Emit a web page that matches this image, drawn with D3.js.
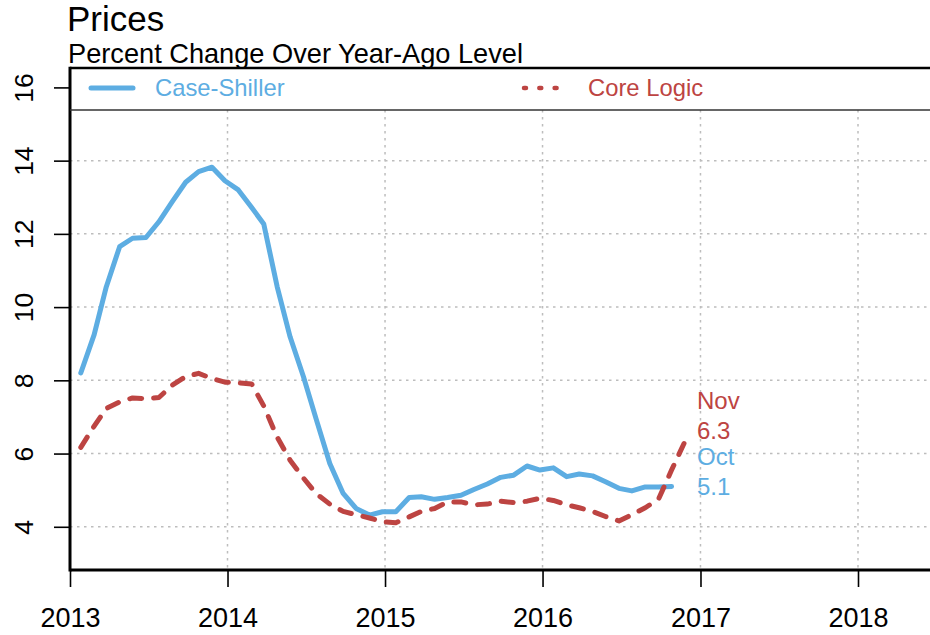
<!DOCTYPE html>
<html>
<head>
<meta charset="utf-8">
<script src="https://cdn.jsdelivr.net/npm/d3@7"></script>
<style>
  html, body { margin: 0; padding: 0; background: #fff; }
  svg { display: block; font-family: "Liberation Sans", Arial, sans-serif; }
</style>
</head>
<body>
<svg id="chart" width="930" height="635"></svg>
<script>
// ---- data (monthly, percent change over year-ago level) ----
const startYear = 2013;
const caseShiller = [
  8.2, 9.25, 10.55, 11.65, 11.88, 11.9, 12.33, 12.88, 13.41, 13.7, 13.82, 13.45,
  13.2, 12.72, 12.27, 10.56, 9.19, 8.1, 6.92, 5.73, 4.91, 4.5, 4.32, 4.41,
  4.41, 4.8, 4.82, 4.75, 4.8, 4.86, 5.02, 5.17, 5.35, 5.41, 5.66, 5.55,
  5.61, 5.37, 5.44, 5.39, 5.23, 5.05, 4.98, 5.09, 5.09, 5.1
];
const coreLogic = [
  6.17, 6.75, 7.23, 7.41, 7.52, 7.5, 7.53, 7.87, 8.1, 8.19, 8.05, 7.95,
  7.93, 7.9, 7.3, 6.45, 5.82, 5.33, 4.9, 4.62, 4.42, 4.33, 4.24, 4.14,
  4.11, 4.27, 4.42, 4.5, 4.68, 4.68, 4.6, 4.62, 4.7, 4.66, 4.7, 4.78,
  4.72, 4.6, 4.52, 4.42, 4.28, 4.16, 4.33, 4.52, 4.76, 5.55, 6.33
];
const yTicks = [4, 6, 8, 10, 12, 14, 16];
const yGrid = [4, 6, 8, 10, 12, 14];
const xTickYears = [2013, 2014, 2015, 2016, 2017, 2018];
const seriesNames = ["Case-Shiller", "Core Logic"];
const titleText = "Prices";
const subtitleText = "Percent Change Over Year-Ago Level";

(function () {
const blue = "#5DADE2";
const red = "#BD4442";

// month index -> date (data points sit late in each month)
const toDate = i => new Date(startYear, i, 26);
const blueData = caseShiller.map((v, i) => ({ date: toDate(i), v }));
const redData = coreLogic.map((v, i) => ({ date: toDate(i), v }));

const svg = d3.select("#chart");
const pLeft = 70, pTop = 68, pBottom = 570, pRight = 940, legendBottom = 110;

const x = d3.scaleTime()
  .domain([new Date(2013, 0, 1), new Date(2018, 0, 1)])
  .range([70, 858]);
const y = d3.scaleLinear().domain([2.82, 16.53]).range([pBottom, pTop]);

// title
svg.append("text").attr("x", 67).attr("y", 30.5)
  .attr("font-size", 35).attr("fill", "#000").text(titleText);
svg.append("text").attr("x", 68).attr("y", 62.5)
  .attr("font-size", 27.2).attr("fill", "#000").text(subtitleText);

// grid
const grid = svg.append("g").attr("stroke", "#bdbdbd").attr("stroke-width", 1.5)
  .attr("stroke-dasharray", "2.5 4.5");
grid.selectAll("line.h").data(yGrid).join("line").attr("class", "h")
  .attr("x1", pLeft).attr("x2", 930)
  .attr("y1", d => y(d)).attr("y2", d => y(d));
grid.selectAll("line.v").data(xTickYears.slice(1)).join("line").attr("class", "v")
  .attr("x1", d => x(new Date(d, 0, 1))).attr("x2", d => x(new Date(d, 0, 1)))
  .attr("y1", legendBottom).attr("y2", pBottom);

// axes
const yAxis = svg.append("g").attr("transform", `translate(${pLeft},0)`)
  .call(d3.axisLeft(y).tickValues(yTicks).tickSize(16).tickFormat(d3.format("d")));
yAxis.select(".domain").remove();
yAxis.selectAll(".tick line").attr("stroke", "#000").attr("stroke-width", 1.6);
yAxis.selectAll(".tick text")
  .attr("transform", "rotate(-90)")
  .attr("x", 0).attr("y", -37).attr("dy", 0)
  .attr("text-anchor", "middle")
  .attr("font-size", 26.5).attr("fill", "#000")
  .attr("font-family", "Liberation Sans, Arial, sans-serif");

const xAxis = svg.append("g").attr("transform", `translate(0,${pBottom})`)
  .call(d3.axisBottom(x).tickValues(xTickYears.map(yr => new Date(yr, 0, 1)))
    .tickSize(17).tickFormat(d3.timeFormat("%Y")));
xAxis.select(".domain").remove();
xAxis.selectAll(".tick line").attr("stroke", "#000").attr("stroke-width", 1.6);
xAxis.selectAll(".tick text")
  .attr("y", 57).attr("dy", 0)
  .attr("font-size", 27).attr("fill", "#000")
  .attr("font-family", "Liberation Sans, Arial, sans-serif");

// lines
const line = d3.line().x(d => x(d.date)).y(d => y(d.v));
svg.append("path").datum(blueData).attr("d", line)
  .attr("fill", "none").attr("stroke", blue).attr("stroke-width", 5)
  .attr("stroke-linejoin", "round").attr("stroke-linecap", "round");
svg.append("path").datum(redData).attr("d", line)
  .attr("fill", "none").attr("stroke", red).attr("stroke-width", 5)
  .attr("stroke-dasharray", "12 12")
  .attr("stroke-linejoin", "round").attr("stroke-linecap", "round");

// frame
const frame = svg.append("g").attr("stroke", "#000");
frame.append("line").attr("x1", pLeft).attr("x2", pRight).attr("y1", pTop).attr("y2", pTop).attr("stroke-width", 2.5);
frame.append("line").attr("x1", pLeft).attr("x2", pRight).attr("y1", pBottom).attr("y2", pBottom).attr("stroke-width", 3);
frame.append("line").attr("x1", pLeft).attr("x2", pLeft).attr("y1", pTop - 1.2).attr("y2", pBottom + 1.5).attr("stroke-width", 3);
frame.append("line").attr("x1", pLeft).attr("x2", pRight).attr("y1", legendBottom).attr("y2", legendBottom)
  .attr("stroke", "#333").attr("stroke-width", 1.5);

// legend
svg.append("line").attr("x1", 91).attr("x2", 133).attr("y1", 88).attr("y2", 88)
  .attr("stroke", blue).attr("stroke-width", 5).attr("stroke-linecap", "round");
svg.append("text").attr("x", 155).attr("y", 96).attr("font-size", 23.8)
  .attr("fill", blue).text(seriesNames[0]);
svg.append("line").attr("x1", 524).attr("x2", 566).attr("y1", 88).attr("y2", 88)
  .attr("stroke", red).attr("stroke-width", 4.5).attr("stroke-linecap", "round")
  .attr("stroke-dasharray", "2 13.3");
svg.append("text").attr("x", 588).attr("y", 96).attr("font-size", 23.8)
  .attr("fill", red).text(seriesNames[1]);

// end labels
const fmtMonth = d3.timeFormat("%b");
const lastRed = redData[redData.length - 1];
const lastBlue = blueData[blueData.length - 1];
const lab = svg.append("g").attr("font-size", 24);
lab.append("text").attr("x", 697).attr("y", 409).attr("fill", red).text(fmtMonth(lastRed.date));
lab.append("text").attr("x", 697).attr("y", 439).attr("fill", red).text(lastRed.v.toFixed(1));
lab.append("text").attr("x", 697).attr("y", 465).attr("fill", blue).text(fmtMonth(lastBlue.date));
lab.append("text").attr("x", 697).attr("y", 495).attr("fill", blue).text(lastBlue.v.toFixed(1));
})();
</script>
</body>
</html>
